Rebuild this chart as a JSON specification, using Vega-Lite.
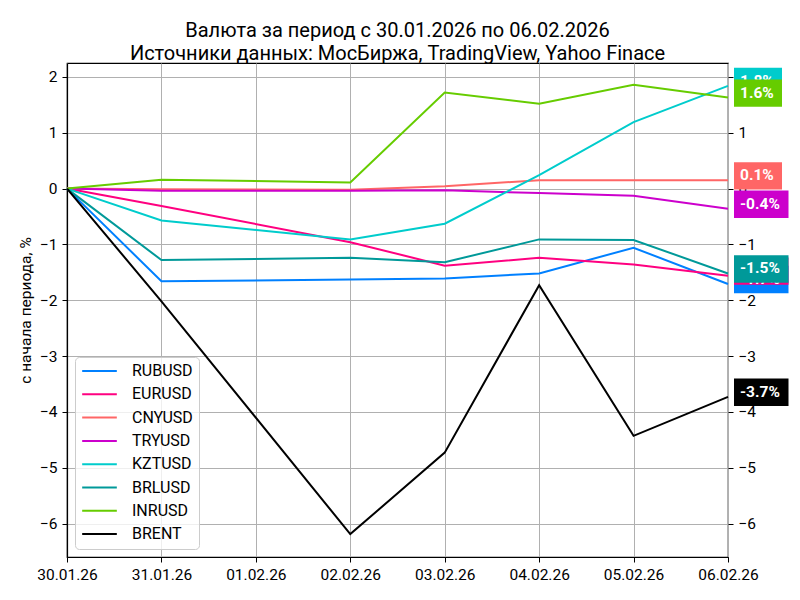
{
  "$schema": "https://vega.github.io/schema/vega-lite/v6.json",
  "width": 661,
  "height": 494,
  "autosize": {"type": "none"},
  "padding": {"left": 67, "top": 63, "right": 72, "bottom": 43},
  "background": "white",
  "title": {
    "text": ["Валюта за период с 30.01.2026 по 06.02.2026", "Источники данных: МосБиржа, TradingView, Yahoo Finace"],
    "font": "Roboto",
    "fontSize": 20,
    "fontWeight": "normal",
    "color": "black",
    "anchor": "middle",
    "lineHeight": 23.5,
    "offset": 4,
    "dy": 5
  },
  "config": {
    "font": "Roboto",
    "view": {"stroke": "black", "strokeWidth": 1.2}
  },
  "data": {
    "values": [
      {"date": "2026-01-30", "series": "RUBUSD", "value": 0},
      {"date": "2026-01-31", "series": "RUBUSD", "value": -1.66},
      {"date": "2026-02-02", "series": "RUBUSD", "value": -1.63},
      {"date": "2026-02-03", "series": "RUBUSD", "value": -1.61},
      {"date": "2026-02-04", "series": "RUBUSD", "value": -1.52},
      {"date": "2026-02-05", "series": "RUBUSD", "value": -1.06},
      {"date": "2026-02-06", "series": "RUBUSD", "value": -1.71},
      {"date": "2026-01-30", "series": "EURUSD", "value": 0},
      {"date": "2026-01-31", "series": "EURUSD", "value": -0.31},
      {"date": "2026-02-02", "series": "EURUSD", "value": -0.96},
      {"date": "2026-02-03", "series": "EURUSD", "value": -1.38},
      {"date": "2026-02-04", "series": "EURUSD", "value": -1.24},
      {"date": "2026-02-05", "series": "EURUSD", "value": -1.36},
      {"date": "2026-02-06", "series": "EURUSD", "value": -1.56},
      {"date": "2026-01-30", "series": "CNYUSD", "value": 0},
      {"date": "2026-01-31", "series": "CNYUSD", "value": -0.01},
      {"date": "2026-02-02", "series": "CNYUSD", "value": -0.02},
      {"date": "2026-02-03", "series": "CNYUSD", "value": 0.04},
      {"date": "2026-02-04", "series": "CNYUSD", "value": 0.15},
      {"date": "2026-02-05", "series": "CNYUSD", "value": 0.15},
      {"date": "2026-02-06", "series": "CNYUSD", "value": 0.148},
      {"date": "2026-01-30", "series": "TRYUSD", "value": 0},
      {"date": "2026-01-31", "series": "TRYUSD", "value": -0.04},
      {"date": "2026-02-02", "series": "TRYUSD", "value": -0.04},
      {"date": "2026-02-03", "series": "TRYUSD", "value": -0.03},
      {"date": "2026-02-04", "series": "TRYUSD", "value": -0.08},
      {"date": "2026-02-05", "series": "TRYUSD", "value": -0.13},
      {"date": "2026-02-06", "series": "TRYUSD", "value": -0.36},
      {"date": "2026-01-30", "series": "KZTUSD", "value": 0},
      {"date": "2026-01-31", "series": "KZTUSD", "value": -0.57},
      {"date": "2026-02-02", "series": "KZTUSD", "value": -0.91},
      {"date": "2026-02-03", "series": "KZTUSD", "value": -0.63},
      {"date": "2026-02-04", "series": "KZTUSD", "value": 0.24},
      {"date": "2026-02-05", "series": "KZTUSD", "value": 1.19},
      {"date": "2026-02-06", "series": "KZTUSD", "value": 1.84},
      {"date": "2026-01-30", "series": "BRLUSD", "value": 0},
      {"date": "2026-01-31", "series": "BRLUSD", "value": -1.28},
      {"date": "2026-02-02", "series": "BRLUSD", "value": -1.24},
      {"date": "2026-02-03", "series": "BRLUSD", "value": -1.32},
      {"date": "2026-02-04", "series": "BRLUSD", "value": -0.91},
      {"date": "2026-02-05", "series": "BRLUSD", "value": -0.92},
      {"date": "2026-02-06", "series": "BRLUSD", "value": -1.52},
      {"date": "2026-01-30", "series": "INRUSD", "value": 0},
      {"date": "2026-01-31", "series": "INRUSD", "value": 0.16},
      {"date": "2026-02-02", "series": "INRUSD", "value": 0.11},
      {"date": "2026-02-03", "series": "INRUSD", "value": 1.72},
      {"date": "2026-02-04", "series": "INRUSD", "value": 1.52},
      {"date": "2026-02-05", "series": "INRUSD", "value": 1.86},
      {"date": "2026-02-06", "series": "INRUSD", "value": 1.63},
      {"date": "2026-01-30", "series": "BRENT", "value": 0},
      {"date": "2026-01-31", "series": "BRENT", "value": -2.02},
      {"date": "2026-02-02", "series": "BRENT", "value": -6.19},
      {"date": "2026-02-03", "series": "BRENT", "value": -4.73},
      {"date": "2026-02-04", "series": "BRENT", "value": -1.73},
      {"date": "2026-02-05", "series": "BRENT", "value": -4.43},
      {"date": "2026-02-06", "series": "BRENT", "value": -3.73}
    ]
  },
  "encoding": {
    "x": {
      "field": "date",
      "type": "ordinal",
      "scale": {
        "type": "point",
        "padding": 0,
        "domain": ["2026-01-30", "2026-01-31", "2026-02-01", "2026-02-02", "2026-02-03", "2026-02-04", "2026-02-05", "2026-02-06"]
      },
      "axis": {
        "title": null,
        "labelAngle": 0,
        "labelExpr": "substring(datum.value,8,10)+'.'+substring(datum.value,5,7)+'.'+substring(datum.value,2,4)",
        "labelFont": "Roboto",
        "labelFontSize": 15.5,
        "labelColor": "black",
        "labelPadding": 5,
        "tickSize": 5,
        "tickColor": "black",
        "tickWidth": 1,
        "domainColor": "black",
        "domainWidth": 1.2,
        "grid": true,
        "gridColor": "#b0b0b0",
        "gridWidth": 1
      }
    },
    "y": {
      "field": "value",
      "type": "quantitative",
      "scale": {"domain": [-6.6, 2.25], "nice": false, "zero": false}
    }
  },
  "layer": [
    {
      "mark": {"type": "line", "strokeWidth": 2},
      "encoding": {
        "y": {
          "field": "value",
          "type": "quantitative",
          "axis": {
            "title": "с начала периода, %",
            "titleFont": "Roboto",
            "titleFontSize": 15.5,
            "titleFontWeight": "normal",
            "titleColor": "black",
            "titlePadding": 6,
            "values": [-6, -5, -4, -3, -2, -1, 0, 1, 2],
            "labelFont": "Roboto",
            "labelFontSize": 15.5,
            "labelColor": "black",
            "labelPadding": 5,
            "tickSize": 5,
            "tickColor": "black",
            "domainColor": "black",
            "domainWidth": 1.2,
            "grid": true,
            "gridColor": "#b0b0b0",
            "gridWidth": 1
          }
        },
        "color": {
          "field": "series",
          "type": "nominal",
          "scale": {
            "domain": ["RUBUSD", "EURUSD", "CNYUSD", "TRYUSD", "KZTUSD", "BRLUSD", "INRUSD", "BRENT"],
            "range": ["#0080ff", "#ff0080", "#ff6666", "#cc00cc", "#00cccc", "#009999", "#66cc00", "#000000"]
          },
          "legend": {
            "title": null,
            "orient": "bottom-left",
            "offset": 8,
            "symbolType": "stroke",
            "symbolSize": 1200,
            "symbolStrokeWidth": 2,
            "labelFont": "Roboto",
            "labelFontSize": 16,
            "labelColor": "black",
            "labelOffset": 14,
            "clipHeight": 16,
            "rowPadding": 7.3,
            "padding": 6,
            "strokeColor": "#cccccc",
            "fillColor": "rgba(255,255,255,0.8)",
            "cornerRadius": 4
          }
        },
        "order": {"field": "date"}
      }
    },
    {
      "transform": [
        {"filter": "datum.date == '2026-02-06'"},
        {"filter": {"field": "series", "oneOf": ["RUBUSD", "EURUSD", "CNYUSD", "TRYUSD", "KZTUSD"]}}
      ],
      "mark": {"type": "point", "filled": true, "opacity": 1, "size": 400, "xOffset": 6, "yOffset": -4.5, "strokeWidth": 0},
      "encoding": {
        "y": {
          "field": "value",
          "type": "quantitative",
          "axis": {
            "orient": "right",
            "title": null,
            "values": [-6, -5, -4, -3, -2, -1, 0, 1, 2],
            "labelFont": "Roboto",
            "labelFontSize": 15.5,
            "labelColor": "black",
            "labelPadding": 5,
            "tickSize": 5,
            "tickColor": "black",
            "domain": false,
            "grid": false
          }
        },
        "color": {"field": "series", "type": "nominal", "legend": null},
        "shape": {
          "condition": {"test": "datum.value < 0", "value": "M0,-1.37H5.45V1.37H0Z"},
          "value": "M0,-1.37H4.8V1.37H0Z"
        }
      }
    },
    {
      "transform": [
        {"filter": "datum.date == '2026-02-06'"},
        {"filter": {"field": "series", "oneOf": ["RUBUSD", "EURUSD", "CNYUSD", "TRYUSD", "KZTUSD"]}},
        {"calculate": "(datum.value < 0 ? '-' : '') + format(abs(datum.value), '.1f') + '%'", "as": "label"}
      ],
      "mark": {"type": "text", "align": "left", "baseline": "alphabetic", "xOffset": 12, "font": "Roboto", "fontSize": 15.5, "fontWeight": "bold", "color": "white"},
      "encoding": {
        "y": {"field": "value", "type": "quantitative", "axis": null},
        "text": {"field": "label"}
      }
    },
    {
      "transform": [
        {"filter": "datum.date == '2026-02-06'"},
        {"filter": {"field": "series", "oneOf": ["BRLUSD", "INRUSD", "BRENT"]}}
      ],
      "mark": {"type": "point", "filled": true, "opacity": 1, "size": 400, "xOffset": 6, "yOffset": -4.5, "strokeWidth": 0},
      "encoding": {
        "y": {"field": "value", "type": "quantitative", "axis": null},
        "color": {"field": "series", "type": "nominal", "legend": null},
        "shape": {
          "condition": {"test": "datum.value < 0", "value": "M0,-1.37H5.45V1.37H0Z"},
          "value": "M0,-1.37H4.8V1.37H0Z"
        }
      }
    },
    {
      "transform": [
        {"filter": "datum.date == '2026-02-06'"},
        {"filter": {"field": "series", "oneOf": ["BRLUSD", "INRUSD", "BRENT"]}},
        {"calculate": "(datum.value < 0 ? '-' : '') + format(abs(datum.value), '.1f') + '%'", "as": "label"}
      ],
      "mark": {"type": "text", "align": "left", "baseline": "alphabetic", "xOffset": 12, "font": "Roboto", "fontSize": 15.5, "fontWeight": "bold", "color": "white"},
      "encoding": {
        "y": {"field": "value", "type": "quantitative", "axis": null},
        "text": {"field": "label"}
      }
    }
  ],
  "resolve": {"axis": {"y": "independent"}}
}
